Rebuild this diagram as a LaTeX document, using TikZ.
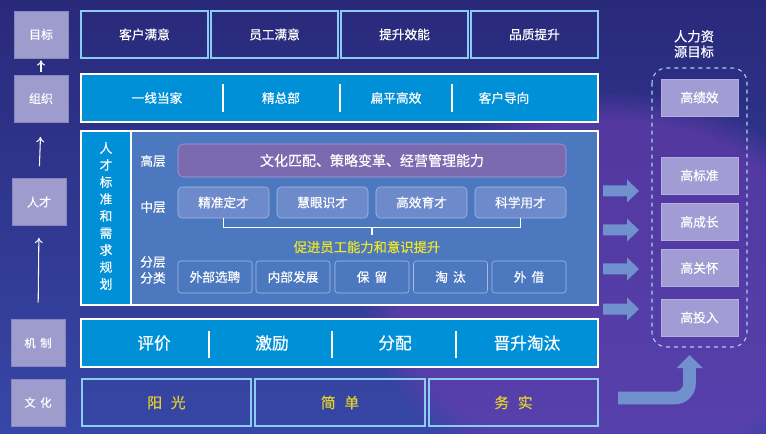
\documentclass[tikz,border=0pt]{standalone}
\usepackage{fontspec}
\setmainfont{Noto Sans CJK SC}[FakeBold=0.5]
\usetikzlibrary{arrows.meta, fadings}

\definecolor{bgtop}{HTML}{29297A}
\definecolor{bgbot}{HTML}{3747A6}
\definecolor{glow}{HTML}{6C3CB0}
\definecolor{lav}{HTML}{9E9BCD}
\definecolor{lavline}{HTML}{8885C0}
\definecolor{skyline}{HTML}{8CCBF2}
\definecolor{cyanbar}{HTML}{0090D8}
\definecolor{midblue}{HTML}{4B78BE}
\definecolor{topbar}{HTML}{7C6AB0}
\definecolor{topline}{HTML}{A69FD8}
\definecolor{midbox}{HTML}{6D8ACA}
\definecolor{boxline}{HTML}{A8BCE6}
\definecolor{fatarrow}{HTML}{7191CE}
\definecolor{hrfill}{HTML}{A29CD4}
\definecolor{hrline}{HTML}{B3AEE0}
\definecolor{gold}{HTML}{F0E428}
\definecolor{darkgold}{HTML}{DCCF30}

\begin{document}
\begin{tikzpicture}[x=0.75pt, y=-0.75pt,
  side/.style={draw=lavline, fill=lav, text=white, minimum width=40.5pt, minimum height=35.25pt, inner sep=0pt, font=\fontsize{9}{10}\selectfont},
  aim/.style={draw=skyline, line width=1.1pt, text=white, minimum width=95.25pt, minimum height=35.25pt, font=\fontsize{9.5}{11}\selectfont},
  bar/.style={draw=white, line width=1.1pt, fill=cyanbar, minimum width=387.75pt, minimum height=36pt},
  sep/.style={white, line width=1pt},
  word/.style={text=white, font=\fontsize{9.5}{11}\selectfont},
  bigword/.style={text=white, font=\fontsize{12.5}{14}\selectfont},
  midcell/.style={draw=boxline, fill=midbox, rounded corners=3pt, text=white, minimum width=68.25pt, minimum height=23.25pt, font=\fontsize{9.5}{11}\selectfont},
  lowcell/.style={draw=boxline, rounded corners=2pt, text=white, minimum width=55.5pt, minimum height=24pt, font=\fontsize{9.5}{11}\selectfont},
  culture/.style={draw=skyline, line width=1.1pt, text=darkgold, minimum height=35.25pt, font=\fontsize{11}{13}\selectfont},
  hrbox/.style={draw=hrline, fill=hrfill, text=white, minimum width=57.75pt, minimum height=27.75pt, font=\fontsize{9.5}{11}\selectfont},
  up/.style={-{To[length=4pt, width=6pt]}, line width=0.8pt, color=white!90!lav}
]
  \useasboundingbox (0,0) rectangle (766,434);
  % background
  \begin{scope}
    \clip (0,0) rectangle (766,434);
    \shade[top color=bgtop, bottom color=bgbot] (0,0) rectangle (766,434);
    \fill[glow, opacity=0.6, path fading=circle with fuzzy edge 15 percent] (610,290) ellipse [x radius=250, y radius=200];
  \end{scope}

  % left column
  \node[side] (goal) at (41,34.5) {目标};
  \node[side] (org) at (41,98.5) {组织};
  \node[side] (talent) at (39,202) {人才};
  \node[side, font=\fontsize{8.5}{10}\selectfont] (mech) at (38,343) {机\hspace{0.4em}制};
  \node[side, font=\fontsize{8.5}{10}\selectfont] (cult) at (38,402.5) {文\hspace{0.4em}化};
  \draw[up, shorten <=2pt, shorten >=1.5pt] (org.north) -- (goal.south);
  \draw[up, shorten <=9pt, shorten >=11pt] (talent.north) -- (org.south);
  \draw[up, shorten <=12.5pt, shorten >=9pt] (mech.north) -- (talent.south);

  % goals
  \node[aim] (g1) at (144.5,34.5) {客户满意};
  \node[aim] (g2) at (274.5,34.5) {员工满意};
  \node[aim] (g3) at (404.5,34.5) {提升效能};
  \node[aim] (g4) at (534.5,34.5) {品质提升};

  % organisation
  \node[bar] (orgbar) at (339.5,98) {};
  \foreach \x in {223,340,452}
    \draw[sep] (\x,84) -- (\x,112);
  \node[word] (o1) at (157,98) {一线当家};
  \node[word] (o2) at (281,98) {精总部};
  \node[word] (o3) at (396,98) {扁平高效};
  \node[word] (o4) at (504,98) {客户导向};

  % talent block
  \draw[white, line width=1.1pt, fill=cyanbar] (81,131) rectangle (131,305);
  \draw[white, line width=1.1pt, fill=midblue] (131,131) rectangle (598,305);
  \node[text=white, align=center, font=\fontsize{9.5}{12.75}\selectfont] (plan) at (106,216) {人\\才\\标\\准\\和\\需\\求\\规\\划};
  \node[word] (high) at (153,161) {高层};
  \node[word] (middle) at (153,207) {中层};
  \node[word, align=center, font=\fontsize{9.5}{12}\selectfont] (layer) at (153,270) {分层\\分类};
  \node[draw=topline, fill=topbar, rounded corners=4pt, text=white, minimum width=291pt, minimum height=24.75pt, font=\fontsize{10.5}{12.5}\selectfont] (highbar) at (372,160.5) {文化匹配、策略变革、经营管理能力};
  \node[midcell] (m1) at (223.5,202.5) {精准定才};
  \node[midcell] (m2) at (322.5,202.5) {慧眼识才};
  \node[midcell] (m3) at (421.5,202.5) {高效育才};
  \node[midcell] (m4) at (520.5,202.5) {科学用才};
  \draw[white, line width=0.9pt] (m1.south) -- ++(0,9) coordinate (bl) -| (m4.south);
  \coordinate (bm) at (372,227);
  \draw[white, line width=0.9pt] (bm) -- ++(0,8);
  \node[text=gold, font=\fontsize{10}{12}\selectfont] (promo) at (367,247) {促进员工能力和意识提升};
  \node[lowcell] (l1) at (215,277) {外部选聘};
  \node[lowcell] (l2) at (293,277) {内部发展};
  \node[lowcell] (l3) at (372,277) {保\hspace{0.4em}留};
  \node[lowcell] (l4) at (450.5,277) {淘\hspace{0.4em}汰};
  \node[lowcell] (l5) at (529,277) {外\hspace{0.4em}借};

  % mechanism
  \node[bar] (mechbar) at (339.5,343) {};
  \foreach \x in {209,332,456}
    \draw[sep] (\x,331) -- (\x,358);
  \node[bigword] (k1) at (154,343) {评价};
  \node[bigword] (k2) at (272,343) {激励};
  \node[bigword] (k3) at (395,343) {分配};
  \node[bigword] (k4) at (527,343) {晋升淘汰};

  % culture
  \node[culture, minimum width=126.75pt] (c1) at (166.5,402.5) {阳\hspace{0.6em}光};
  \node[culture, minimum width=127.5pt] (c2) at (340,402.5) {简\hspace{0.6em}单};
  \node[culture, minimum width=126.75pt] (c3) at (513.5,402.5) {务\hspace{0.6em}实};

  % hr goals
  \node[text=white, align=center, font=\fontsize{10}{11.5}\selectfont] (hrtitle) at (694,44) {人力资\\源目标};
  \draw[skyline!80!white, dashed, line width=0.8pt, rounded corners=11pt] (652,68) rectangle (747,347);
  \node[hrbox] (h1) at (699.5,97.5) {高绩效};
  \node[hrbox] (h2) at (699.5,175.5) {高标准};
  \node[hrbox] (h3) at (699.5,222) {高成长};
  \node[hrbox] (h4) at (699.5,268) {高关怀};
  \node[hrbox] (h5) at (699.5,317.5) {高投入};

  % fat arrows
  \foreach \y in {191,230,269,309}
    \fill[fatarrow] (603,\y-5.5) -- (627,\y-5.5) -- (627,\y-11.5) -- (639,\y) -- (627,\y+11.5) -- (627,\y+5.5) -- (603,\y+5.5) -- cycle;
  \draw[fatarrow, line width=9.5pt, rounded corners=11pt] (618,398) -- (689.5,398) -- (689.5,367);
  \fill[fatarrow] (676.5,368) -- (689.5,355) -- (702.5,368) -- cycle;
\end{tikzpicture}
\end{document}
